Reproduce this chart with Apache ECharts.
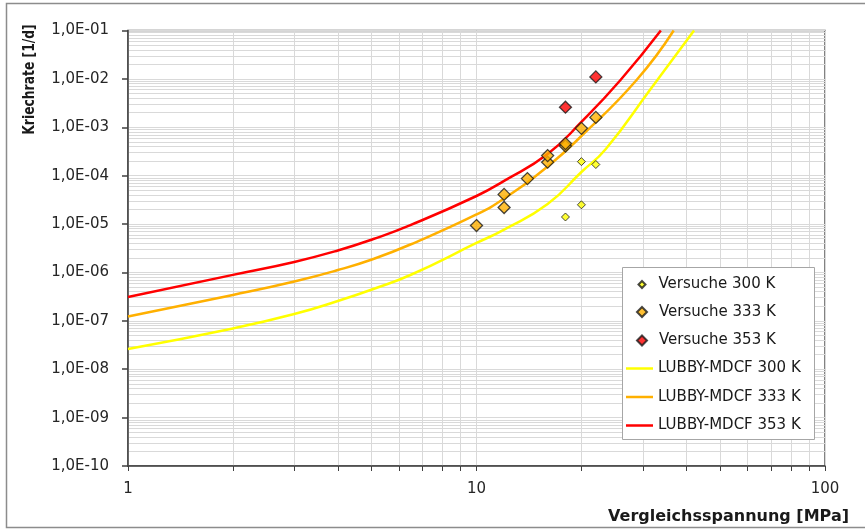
<!DOCTYPE html>
<html>
<head>
<meta charset="utf-8">
<script src="https://cdn.jsdelivr.net/npm/echarts@6/dist/echarts.min.js"></script>
<style>
  html, body { margin: 0; padding: 0; background: #ffffff; }
  #chart { width: 865px; height: 531px; }
</style>
</head>
<body>
<div id="chart"></div>
<script>
// ---- Data ----
const xTickValues = [1, 10, 100];
const xTickLabels = ['1', '10', '100'];
const yTickValues = [1e-10, 1e-9, 1e-8, 1e-7, 1e-6, 1e-5, 1e-4, 1e-3, 1e-2, 1e-1];
const yTickLabels = ['1,0E-10', '1,0E-09', '1,0E-08', '1,0E-07', '1,0E-06', '1,0E-05', '1,0E-04', '1,0E-03', '1,0E-02', '1,0E-01'];

// Versuche (test points): stress [MPa], creep rate [1/d]
const v300Stress = [18, 20, 20, 22];
const v300Rate   = [1.4e-5, 2.5e-5, 1.95e-4, 1.7e-4];
const v333Stress = [10, 12, 12, 14, 16, 16, 18, 18, 20, 22];
const v333Rate   = [9.3e-6, 2.2e-5, 4.1e-5, 8.7e-5, 1.9e-4, 2.6e-4, 4.1e-4, 4.6e-4, 9.5e-4, 1.6e-3];
const v353Stress = [18, 22];
const v353Rate   = [2.6e-3, 1.1e-2];

// LUBBY-MDCF model curves
const l300Stress = [1, 2, 3, 4, 5.06, 6.46, 10, 12, 16, 20, 23.5, 31.6, 42.1];
const l300Rate   = [2.62e-8, 6.95e-8, 1.38e-7, 2.57e-7, 4.55e-7, 8.85e-7, 4.06e-6, 7.7e-6, 2.6e-5, 1.19e-4, 3.56e-4, 6.2e-3, 1e-1];
const l333Stress = [1, 2, 3, 4, 5.06, 6.46, 10, 12, 16, 20, 28.8, 36.8];
const l333Rate   = [1.23e-7, 3.42e-7, 6.5e-7, 1.12e-6, 1.9e-6, 3.78e-6, 1.58e-5, 3.37e-5, 1.55e-4, 6.6e-4, 9.5e-3, 1e-1];
const l353Stress = [1, 2, 3, 4, 5.06, 6.46, 10, 12, 16, 20, 25.9, 33.8];
const l353Rate   = [3.1e-7, 8.9e-7, 1.65e-6, 2.84e-6, 4.9e-6, 9.5e-6, 3.8e-5, 7.8e-5, 2.8e-4, 1.29e-3, 9.5e-3, 1e-1];

// ---- helpers ----
function pairs(xs, ys) { return xs.map((x, i) => [x, ys[i]]); }
function logGrid(fromExp, toExp) {
  const out = [];
  for (let e = fromExp; e < toExp; e++) {
    for (let k = 1; k <= 9; k++) out.push(parseFloat((k * Math.pow(10, e)).toPrecision(6)));
  }
  out.push(Math.pow(10, toExp));
  return out;
}
const xGrid = logGrid(0, 2);
const yGrid = logGrid(-10, -1);

const FONT = 'DejaVu Sans';
const TXT = '#262626';
const legendText = { fontFamily: FONT, fontSize: 15, color: '#1a1a1a', lineHeight: 18 };

const chart = echarts.init(document.getElementById('chart'), null, { renderer: 'canvas' });

const lineSeries = (name, xs, ys, color) => ({
  name, type: 'line', data: pairs(xs, ys), smooth: 0.5,
  symbol: 'none', showSymbol: false, clip: true, z: 2,
  lineStyle: { color, width: 2.5 }, itemStyle: { color }
});

const option = {
  backgroundColor: '#ffffff',
  animation: false,
  grid: {
    left: 128, right: 40, top: 30.5, bottom: 65,
    show: true, borderColor: '#595959', borderWidth: 1.5, backgroundColor: 'transparent'
  },
  xAxis: {
    type: 'log', logBase: 10, min: 1, max: 100,
    axisLine: { show: true, lineStyle: { color: '#404040', width: 1.5 } },
    axisTick: { show: true, inside: false, length: 5, customValues: xGrid, lineStyle: { color: '#404040', width: 1 } },
    axisLabel: {
      customValues: xTickValues,
      formatter: (v) => { const i = xTickValues.findIndex(t => Math.abs(t - v) / t < 1e-6); return i >= 0 ? xTickLabels[i] : ''; },
      margin: 16, fontFamily: FONT, fontSize: 15, color: TXT
    },
    splitLine: { show: true, lineStyle: { color: '#d9d9d9', width: 1 } },
    minorTick: { show: false }, minorSplitLine: { show: false }
  },
  yAxis: [
    {
      type: 'log', logBase: 10, min: 1e-10, max: 1e-1,
      axisLine: { show: true, lineStyle: { color: '#404040', width: 1.5 } },
      axisTick: { show: false, customValues: yGrid },
      axisLabel: {
        customValues: yTickValues,
        formatter: (v) => { const i = yTickValues.findIndex(t => Math.abs(t - v) / t < 1e-6); return i >= 0 ? yTickLabels[i] : ''; },
        margin: 19, fontFamily: FONT, fontSize: 15, color: TXT
      },
      splitLine: { show: true, lineStyle: { color: '#d9d9d9', width: 1 } },
      minorTick: { show: false }, minorSplitLine: { show: false }
    },
    {
      type: 'log', logBase: 10, min: 1e-10, max: 1e-1, position: 'left',
      axisLine: { show: false },
      axisTick: { show: true, length: 6, customValues: yTickValues, lineStyle: { color: '#404040', width: 1.5 } },
      axisLabel: { show: false },
      splitLine: { show: false }
    }
  ],
  legend: [
    {
      orient: 'vertical', left: 637.5, top: 275.5, padding: 0, z: 10,
      itemWidth: 7, itemHeight: 7, itemGap: 10.5,
      textStyle: Object.assign({ padding: [0, 0, 0, 8] }, legendText),
      data: ['Versuche 300 K']
    },
    {
      orient: 'vertical', left: 636, top: 303, padding: 0, z: 10,
      itemWidth: 10, itemHeight: 10, itemGap: 10.5,
      textStyle: Object.assign({ padding: [0, 0, 0, 7] }, legendText),
      data: ['Versuche 333 K', 'Versuche 353 K']
    },
    {
      orient: 'vertical', left: 626, top: 359.5, padding: 0, z: 10,
      itemWidth: 27, itemHeight: 2.5, itemGap: 10.5, icon: 'rect',
      textStyle: legendText,
      data: ['LUBBY-MDCF 300 K', 'LUBBY-MDCF 333 K', 'LUBBY-MDCF 353 K']
    }
  ],
  graphic: [
    { type: 'rect', z: 5, shape: { x: 622.5, y: 267.5, width: 192, height: 172 },
      style: { fill: '#ffffff', stroke: '#a6a6a6', lineWidth: 1 } },
    { type: 'rect', z: 1, silent: true, shape: { x: 6.5, y: 3.5, width: 900, height: 524 },
      style: { fill: null, stroke: '#8c8c8c', lineWidth: 1.5 } },
    { type: 'text', z: 10, x: 30, y: 79.5, rotation: Math.PI / 2, scaleX: 0.77,
      style: { text: 'Kriechrate [1/d]', fontFamily: FONT,
               fontWeight: 'bold', fontSize: 16, fill: '#1a1a1a', align: 'center', verticalAlign: 'middle' } },
    { type: 'text', z: 10, x: 849, y: 517,
      style: { text: 'Vergleichsspannung [MPa]', fontFamily: FONT, fontWeight: 'bold', fontSize: 16,
               fill: '#1a1a1a', align: 'right', verticalAlign: 'middle' } }
  ],
  series: [
    lineSeries('LUBBY-MDCF 300 K', l300Stress, l300Rate, '#ffff00'),
    lineSeries('LUBBY-MDCF 333 K', l333Stress, l333Rate, '#ffb000'),
    lineSeries('LUBBY-MDCF 353 K', l353Stress, l353Rate, '#ff0000'),
    { name: 'Versuche 300 K', type: 'scatter', data: pairs(v300Stress, v300Rate), symbol: 'diamond', symbolSize: 8, z: 3,
      itemStyle: { color: '#ffff00', borderColor: '#1a1a1a', borderWidth: 1 } },
    { name: 'Versuche 333 K', type: 'scatter', data: pairs(v333Stress, v333Rate), symbol: 'diamond', symbolSize: 12, z: 3,
      itemStyle: { color: '#ffb000', borderColor: '#1a1a1a', borderWidth: 1.3 } },
    { name: 'Versuche 353 K', type: 'scatter', data: pairs(v353Stress, v353Rate), symbol: 'diamond', symbolSize: 12, z: 3,
      itemStyle: { color: '#ff0000', borderColor: '#1a1a1a', borderWidth: 1.3 } }
  ]
};
chart.setOption(option);
</script>
</body>
</html>
